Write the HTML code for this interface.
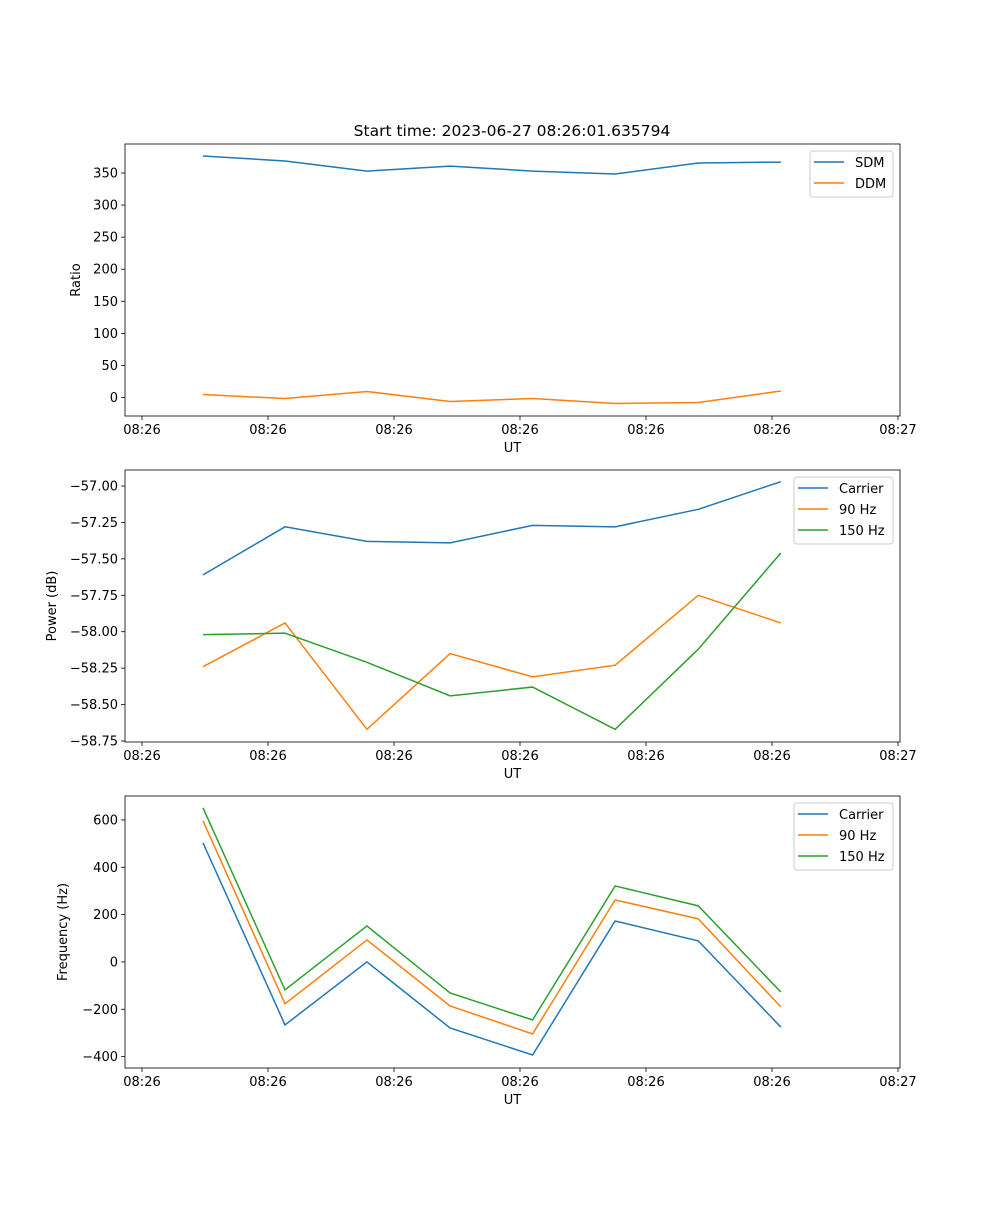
<!DOCTYPE html>
<html><head><meta charset="utf-8"><style>
body{margin:0;background:#fff}
svg text{font-family:"DejaVu Sans","Liberation Sans",sans-serif;font-size:13px;fill:#000}
</style></head><body>
<svg id="fig" width="1000" height="1200" xmlns="http://www.w3.org/2000/svg">
<rect width="1000" height="1200" fill="#fff"/>
<text x="512" y="136" text-anchor="middle" style="font-size:15.5px">Start time: 2023-06-27 08:26:01.635794</text>
</svg>
<script>
// seconds after 08:26:00
const times = [4.84, 11.35, 17.85, 24.45, 31.0, 37.55, 44.15, 50.7];
const xTickVals = [0, 10, 20, 30, 40, 50, 60];
const xTickLabels = ["08:26","08:26","08:26","08:26","08:26","08:26","08:27"];
const sdm = [376.5, 368.7, 353, 360.8, 353, 348.4, 365.5, 367];
const ddm = [4.7, -1.6, 9.4, -6.2, -1.6, -9.4, -7.8, 10.1];
const powCarrier = [-57.61, -57.28, -57.38, -57.39, -57.27, -57.28, -57.16, -56.97];
const pow90 = [-58.24, -57.94, -58.67, -58.15, -58.31, -58.23, -57.75, -57.94];
const pow150 = [-58.02, -58.01, -58.21, -58.44, -58.38, -58.67, -58.12, -57.46];
const freqCarrier = [503, -266, 0, -279, -393, 173, 89, -275];
const freq90 = [596, -177, 93, -186, -304, 262, 182, -190];
const freq150 = [651, -118, 152, -131, -245, 321, 237, -127];
const ratioTicks = [0, 50, 100, 150, 200, 250, 300, 350];
const powerTicks = [-57.00, -57.25, -57.5, -57.75, -58.0, -58.25, -58.5, -58.75];
const freqTicks = [-400, -200, 0, 200, 400, 600];

const NS = "http://www.w3.org/2000/svg";
const svg = document.getElementById('fig');
const C = {blue:'#1f77b4', orange:'#ff7f0e', green:'#2ca02c'};
function el(tag, attrs, parent){const e=document.createElementNS(NS,tag);for(const k in attrs)e.setAttribute(k,attrs[k]);(parent||svg).appendChild(e);return e;}

function panel(cfg){
  const L=125,R=900,T=cfg.top,B=cfg.top+272;
  const g=el('g',{});
  
  
  const xs=v=>L+(v-(-1.35))/(60.16-(-1.35))*(R-L);
  const ys=v=>B-(v-cfg.ymin)/(cfg.ymax-cfg.ymin)*(B-T);
  xTickVals.forEach((v,i)=>{
    const x=xs(v);
    el('line',{x1:x,x2:x,y1:B,y2:B+4,stroke:'#000','stroke-width':0.8},g);
    const t=el('text',{x:x,y:B+18,'text-anchor':'middle'},g);t.textContent=xTickLabels[i];
    
    
  });
  const xl=el('text',{x:(L+R)/2,y:B+36,'text-anchor':'middle'},g);xl.textContent='UT';
  
  
  cfg.ticks.forEach(v=>{
    const y=ys(v);
    el('line',{x1:L-4,x2:L,y1:y,y2:y,stroke:'#000','stroke-width':0.8},g);
    const t=el('text',{x:L-7,y:y+4.5,'text-anchor':'end'},g);
    t.textContent=cfg.fmt(v).replace('-','\u2212');
    
    
  });
  const yl=el('text',{x:0,y:0,'text-anchor':'middle',transform:`translate(${cfg.ylx},${(T+B)/2}) rotate(-90)`},g);
  yl.textContent=cfg.ylabel;
  
  
  cfg.series.forEach(s=>{
    const p=el('polyline',{points:s.data.map((v,i)=>xs(times[i])+','+ys(v)).join(' '),fill:'none',stroke:s.color,'stroke-width':1.5},g);
    
    
  });
  el('rect',{x:L,y:T,width:R-L,height:B-T,fill:'none',stroke:'#000','stroke-width':0.8},g);
  const lw=cfg.legendW, lx=R-7-lw, ly=T+7, lh=4+21*cfg.series.length;
  const lg=el('g',{},g);
  
  
  el('rect',{x:lx,y:ly,width:lw,height:lh,rx:3,fill:'#fff','fill-opacity':0.8,stroke:'#ccc','stroke-width':1},lg);
  cfg.series.forEach((s,i)=>{
    const yy=ly+11+21*i;
    el('line',{x1:lx+4,x2:lx+34,y1:yy,y2:yy,stroke:s.color,'stroke-width':1.5},lg);
    const t=el('text',{x:lx+45,y:yy+5},lg);t.textContent=s.label;
    
    
  });
}
panel({name:'ratio-panel',top:144,ymin:-28.8,ymax:395.2,ticks:ratioTicks,fmt:v=>String(v),ylabel:'Ratio',ylx:80,legendW:83,
  series:[{label:'SDM',data:sdm,color:C.blue},{label:'DDM',data:ddm,color:C.orange}]});
panel({name:'power-panel',top:470,ymin:-58.757,ymax:-56.89,ticks:powerTicks,fmt:v=>v.toFixed(2),ylabel:'Power (dB)',ylx:56,legendW:99,
  series:[{label:'Carrier',data:powCarrier,color:C.blue},{label:'90 Hz',data:pow90,color:C.orange},{label:'150 Hz',data:pow150,color:C.green}]});
panel({name:'frequency-panel',top:796,ymin:-448,ymax:701,ticks:freqTicks,fmt:v=>String(v),ylabel:'Frequency (Hz)',ylx:67,legendW:99,
  series:[{label:'Carrier',data:freqCarrier,color:C.blue},{label:'90 Hz',data:freq90,color:C.orange},{label:'150 Hz',data:freq150,color:C.green}]});
</script>
</body></html>
